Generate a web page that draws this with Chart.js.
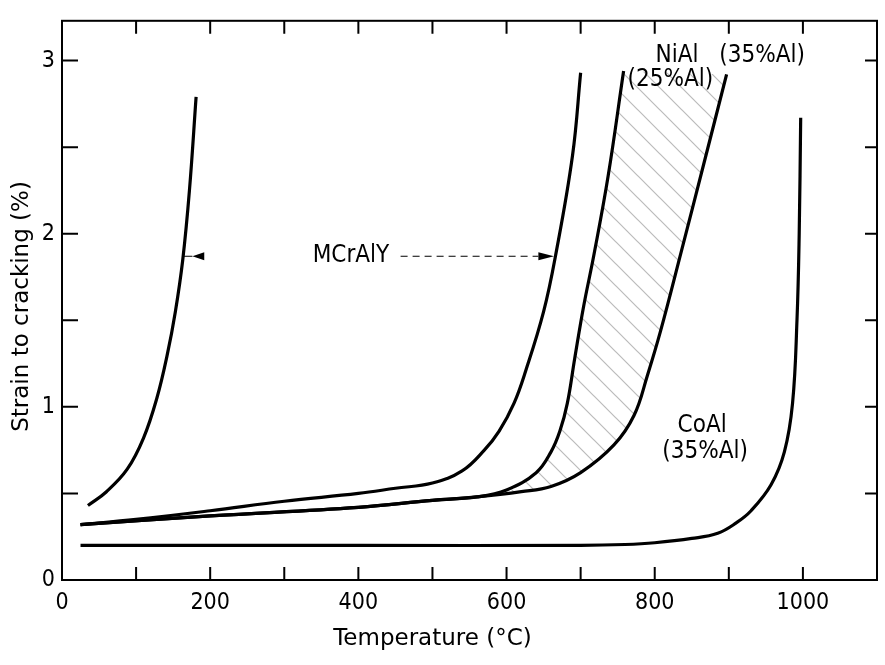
<!DOCTYPE html>
<html>
<head>
<meta charset="utf-8">
<script src="https://cdn.jsdelivr.net/npm/chart.js@4"></script>
<style>
  body { margin: 0; background: #fff; }
  #wrap { width: 885px; height: 665px; position: relative; }
</style>
</head>
<body>
<div id="wrap"><canvas id="myChart"></canvas></div>
<script>
// values (temperature in degC, strain in %)
const mcralyLowT  = [35, 60, 88, 110, 128, 142, 153, 163, 172, 181];
const mcralyLowS  = [0.43, 0.51, 0.64, 0.82, 1.05, 1.30, 1.55, 1.85, 2.25, 2.79];

const mcralyHighT = [25, 100, 200, 300, 400, 450, 500, 540, 570, 590, 610, 626, 650, 666, 689, 700];
const mcralyHighS = [0.32, 0.35, 0.40, 0.455, 0.50, 0.53, 0.56, 0.63, 0.75, 0.86, 1.02, 1.21, 1.55, 1.87, 2.45, 2.93];

const niAl25T = [25, 200, 400, 500, 560, 600, 640, 660, 672, 682, 692, 704, 718, 737, 758];
const niAl25S = [0.32, 0.37, 0.42, 0.46, 0.48, 0.52, 0.62, 0.74, 0.86, 1.02, 1.28, 1.58, 1.88, 2.33, 2.94];

const niAl35T = [25, 200, 400, 500, 560, 620, 660, 700, 745, 772, 790, 808, 836, 866, 897];
const niAl35S = [0.32, 0.37, 0.42, 0.46, 0.48, 0.51, 0.54, 0.62, 0.78, 0.95, 1.18, 1.44, 1.90, 2.40, 2.92];

const coAlT = [25, 400, 700, 760, 800, 850, 885, 910, 930, 957, 975, 986, 992, 995, 997];
const coAlS = [0.20, 0.20, 0.20, 0.205, 0.215, 0.24, 0.27, 0.33, 0.40, 0.55, 0.74, 1.02, 1.50, 2.00, 2.67];

const xTickLabels = [0, 200, 400, 600, 800, 1000];
const yTickLabels = [0, 1, 2, 3];
const xMinorStep = 100;
const yMinorStep = 0.5;

const xTitle = 'Temperature (°C)';
const yTitle = 'Strain to cracking (%)';

// text labels inside the plot: [text, T, strain]
const notes = [
  ['NiAl', 830, 3.03],
  ['(35%Al)', 945, 3.03],
  ['(25%Al)', 821, 2.89],
  ['CoAl', 864, 0.89],
  ['(35%Al)', 868, 0.74],
  ['MCrAlY', 390, 1.87]
];
// MCrAlY pointers: [line start T, head tip T, head base T, strain, dashed]
const pointers = [
  [162, 176, 192, 1.87, false],
  [457, 664, 643, 1.87, true]
];

function pts(t, s) {
  return t.map((v, i) => ({ x: v, y: s[i] }));
}

function hatch() {
  const n = 22;
  const c = document.createElement('canvas');
  c.width = n; c.height = n;
  const g = c.getContext('2d');
  g.strokeStyle = 'rgba(120,120,120,0.5)';
  g.lineWidth = 1.2;
  g.beginPath();
  g.moveTo(0, 0); g.lineTo(n, n);
  g.moveTo(-n / 2, n / 2); g.lineTo(n / 2, n * 1.5);
  g.moveTo(n / 2, -n / 2); g.lineTo(n * 1.5, n / 2);
  g.stroke();
  return g.createPattern(c, 'repeat');
}

const curve = {
  borderColor: '#000',
  borderWidth: 3.2,
  pointRadius: 0,
  tension: 0.4,
  fill: false
};

const framePlugin = {
  id: 'frame',
  afterDraw(chart) {
    const ctx = chart.ctx;
    const a = chart.chartArea;
    const xs = chart.scales.x, ys = chart.scales.y;
    ctx.save();
    ctx.strokeStyle = '#000';
    ctx.lineWidth = 2;
    ctx.strokeRect(a.left, a.top, a.right - a.left, a.bottom - a.top);

    // inward ticks on all four sides
    ctx.beginPath();
    for (let v = xMinorStep; v < xs.max; v += xMinorStep) {
      const px = xs.getPixelForValue(v);
      ctx.moveTo(px, a.bottom); ctx.lineTo(px, a.bottom - 13);
      ctx.moveTo(px, a.top); ctx.lineTo(px, a.top + 13);
    }
    for (let v = yMinorStep; v < ys.max; v += yMinorStep) {
      const py = ys.getPixelForValue(v);
      ctx.moveTo(a.left, py); ctx.lineTo(a.left + 16, py);
      ctx.moveTo(a.right, py); ctx.lineTo(a.right - 12, py);
    }
    ctx.stroke();

    ctx.fillStyle = '#000';
    ctx.textAlign = 'center';
    ctx.textBaseline = 'middle';

    // axis titles
    ctx.font = '23px "DejaVu Sans", sans-serif';
    ctx.fillText(xTitle, xs.getPixelForValue(500), 639);
    ctx.save();
    ctx.translate(22, ys.getPixelForValue(1.58));
    ctx.rotate(-Math.PI / 2);
    ctx.fillText(yTitle, 0, 0);
    ctx.restore();

    // labels in the plot
    ctx.font = '24px "DejaVu Sans Condensed", sans-serif';
    notes.forEach(n => {
      ctx.fillText(n[0], xs.getPixelForValue(n[1]), ys.getPixelForValue(n[2]));
    });

    // pointers
    pointers.forEach(p => {
      const x0 = xs.getPixelForValue(p[0]);
      const tip = xs.getPixelForValue(p[1]);
      const base = xs.getPixelForValue(p[2]);
      const y = ys.getPixelForValue(p[3]);
      ctx.lineWidth = 1;
      ctx.setLineDash(p[4] ? [7, 5] : []);
      ctx.beginPath();
      ctx.moveTo(x0, y); ctx.lineTo(p[4] ? base : tip, y);
      ctx.stroke();
      ctx.setLineDash([]);
      ctx.beginPath();
      ctx.moveTo(tip, y);
      ctx.lineTo(base, y - 4);
      ctx.lineTo(base, y + 4);
      ctx.closePath();
      ctx.fill();
    });
    ctx.restore();
  }
};

const data = {
  datasets: [
    Object.assign({ label: 'MCrAlY low', data: pts(mcralyLowT, mcralyLowS) }, curve),
    Object.assign({ label: 'MCrAlY high', data: pts(mcralyHighT, mcralyHighS) }, curve),
    Object.assign({ label: 'NiAl (25%Al)', data: pts(niAl25T, niAl25S) }, curve, { indexAxis: 'y' }),
    Object.assign({ label: 'NiAl (35%Al)', data: pts(niAl35T, niAl35S) }, curve, { indexAxis: 'y', fill: 2, backgroundColor: hatch() }),
    Object.assign({ label: 'CoAl (35%Al)', data: pts(coAlT, coAlS) }, curve)
  ]
};

const tickFont = { family: '"DejaVu Sans Condensed", sans-serif', size: 23 };

const config = {
  type: 'line',
  data: data,
  options: {
    responsive: true,
    maintainAspectRatio: false,
    animation: false,
    layout: { padding: { top: 12, right: 8, left: 0, bottom: 0 } },
    plugins: { legend: { display: false }, tooltip: { enabled: false } },
    scales: {
      x: {
        type: 'linear',
        min: 0,
        max: 1100,
        grid: { display: false, drawTicks: false },
        border: { display: false },
        afterBuildTicks: s => { s.ticks = xTickLabels.map(v => ({ value: v })); },
        afterFit: s => { s.height = 85; },
        ticks: { color: '#000', padding: 9, maxRotation: 0, font: tickFont, callback: v => String(v) }
      },
      y: {
        type: 'linear',
        min: 0,
        max: 3.23,
        grid: { display: false, drawTicks: false },
        border: { display: false },
        afterBuildTicks: s => { s.ticks = yTickLabels.map(v => ({ value: v })); },
        afterFit: s => { s.width = 62; },
        ticks: { color: '#000', padding: 7, font: tickFont, callback: v => String(v) }
      }
    }
  },
  plugins: [framePlugin]
};

const myChart = new Chart(document.getElementById('myChart'), config);
</script>
</body>
</html>
